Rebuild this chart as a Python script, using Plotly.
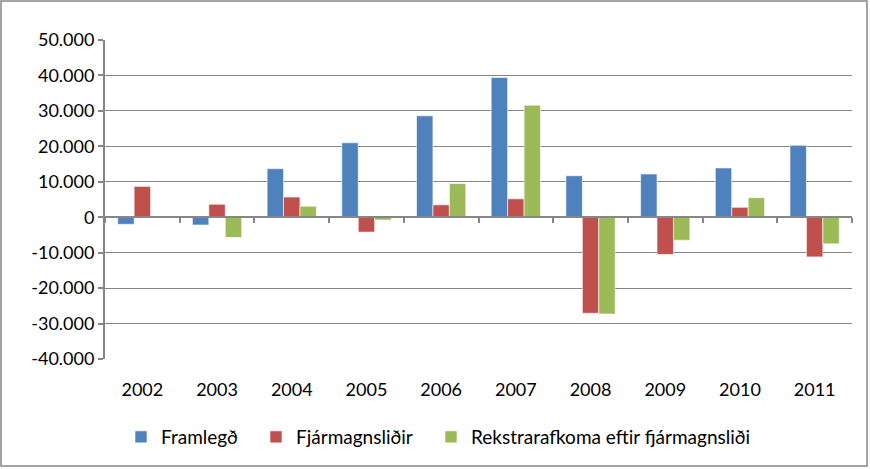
import plotly.graph_objects as go

years = ["2002", "2003", "2004", "2005", "2006", "2007", "2008", "2009", "2010", "2011"]
framlegd = [-2000, -2200, 13700, 21000, 28600, 39400, 11700, 12200, 13900, 20300]
fjarmagnslidir = [8700, 3650, 5700, -4200, 3500, 5200, -27100, -10500, 2800, -11200]
rekstrarafkoma = [None, -5700, 3100, -800, 9500, 31600, -27300, -6500, 5500, -7500]
series_names = ["Framlegð", "Fjármagnsliðir", "Rekstrarafkoma eftir fjármagnsliði"]
colors = ["#4F81BD", "#C0504D", "#9BBB59"]
tick_vals = [50000, 40000, 30000, 20000, 10000, 0, -10000, -20000, -30000, -40000]
tick_text = ["50.000", "40.000", "30.000", "20.000", "10.000", "0",
             "-10.000", "-20.000", "-30.000", "-40.000"]

W, H = 870, 469
L, R, T, B = 105, 18, 40, 110
pw, ph = W - L - R, H - T - B

font = "Lato, Open Sans, sans-serif"
legend_ids = ["legend", "legend2", "legend3"]
legend_left_px = [121, 256, 431]

fig = go.Figure()
for name, vals, c, lid in zip(series_names, [framlegd, fjarmagnslidir, rekstrarafkoma],
                              colors, legend_ids):
    fig.add_trace(go.Bar(x=years, y=vals, name=name, marker_color=c, legend=lid,
                         marker_line=dict(color="rgba(255,255,255,0.6)", width=1)))

# invisible trace to drive boundary ticks on the zero-line axis
fig.add_trace(go.Scatter(x=years, y=[0] * len(years), xaxis="x2", mode="none",
                         showlegend=False, hoverinfo="skip"))

legend_common = dict(orientation="h", xref="container", yref="container",
                     xanchor="left", yanchor="middle", y=1 - 437 / H,
                     font=dict(size=19, family=font), bgcolor="rgba(0,0,0,0)")
legend_layout = {lid: dict(x=px / W, **legend_common)
                 for lid, px in zip(legend_ids, legend_left_px)}

fig.update_layout(
    width=W, height=H,
    margin=dict(l=L, r=R, t=T, b=B, autoexpand=False),
    paper_bgcolor="white", plot_bgcolor="white",
    barmode="group", bargap=0.34, bargroupgap=0,
    font=dict(family=font, size=18, color="black"),
    xaxis=dict(type="category", showgrid=False, showline=False, zeroline=False,
               ticks="outside", ticklen=14, tickcolor="rgba(0,0,0,0)",
               tickfont=dict(size=18)),
    xaxis2=dict(type="category", overlaying="x", anchor="free", position=4 / 9,
                showline=True, linecolor="#868686", linewidth=2,
                ticks="outside", tickson="boundaries", ticklen=5, tickcolor="#868686",
                tickwidth=1.5, showticklabels=False, showgrid=False, matches="x"),
    yaxis=dict(range=[-40000, 50000], tickvals=tick_vals, ticktext=tick_text,
               showgrid=True, gridcolor="#868686", gridwidth=1.2,
               zeroline=False, showline=True, linecolor="#868686", linewidth=2,
               ticks="outside", ticklen=5, tickcolor="#868686", tickwidth=1.5,
               tickfont=dict(size=18)),
    shapes=[dict(type="rect", xref="paper", yref="paper",
                 x0=(1 - L) / pw, x1=(867 - L) / pw,
                 y0=(H - 466 - B) / ph, y1=(H - 1 - B) / ph,
                 line=dict(color="#868686", width=1.5))],
    **legend_layout,
)
fig.write_html("out.html", config={"displayModeBar": False},
               post_script="document.body.style.margin='0';document.body.style.overflow='hidden';")
